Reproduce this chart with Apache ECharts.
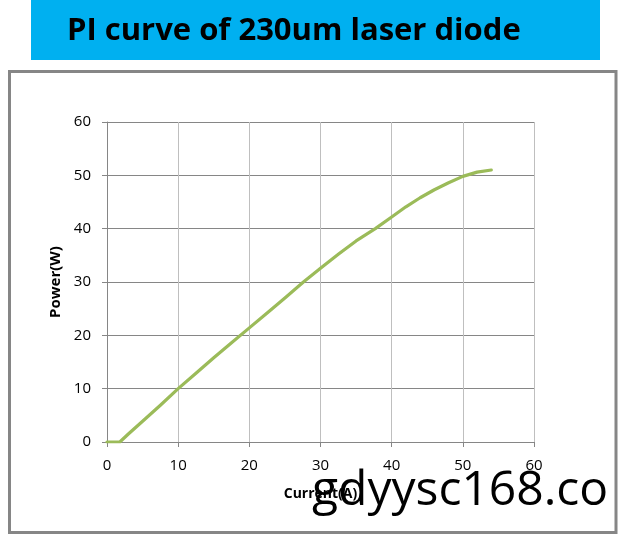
<!DOCTYPE html>
<html>
<head>
<meta charset="utf-8">
<script src="https://cdn.jsdelivr.net/npm/echarts@6/dist/echarts.min.js"></script>
<style>
html,body{margin:0;padding:0;background:#fff;}
#chart{width:618px;height:536px;}
</style>
</head>
<body>
<div id="chart"></div>
<script>
const titleText = 'PI curve of 230um laser diode';
const xAxisName = 'Current(A)';
const yAxisName = 'Power(W)';
const watermark = 'gdyysc168.co';
const currentA = [0, 1, 1.8, 3, 5, 7.5, 10, 12.5, 15, 17.5, 20, 22.5, 25, 27.6, 30, 32.5, 35, 37.7, 40, 42, 44, 46, 48, 50, 52, 54];
const powerW  = [0, 0, 0, 1.5, 3.9, 6.9, 10.0, 12.9, 15.8, 18.6, 21.4, 24.2, 27.0, 30, 32.6, 35.2, 37.7, 40, 42.2, 44.1, 45.8, 47.3, 48.6, 49.8, 50.6, 51];
const xTicks = {min: 0, max: 60, interval: 10};
const yTicks = {min: 0, max: 60, interval: 10};

const chart = echarts.init(document.getElementById('chart'), null, {renderer: 'canvas'});
const font = '"Open Sans", "Liberation Sans", sans-serif';
chart.setOption({
  animation: false,
  backgroundColor: '#fff',
  graphic: [
    {type: 'rect', shape: {x: 31, y: 0, width: 569, height: 60}, style: {fill: '#00B0F0'}, z: 0},
    {type: 'text', left: 67, top: 16, style: {text: titleText, font: 'bold 31px ' + font, fill: '#000'}, z: 1},
    {type: 'rect', shape: {x: 9.5, y: 71.5, width: 606.5, height: 461}, style: {fill: 'none', stroke: '#868686', lineWidth: 3}, z: 0},
    {type: 'text', left: 312, top: 467, style: {text: watermark, font: '48px ' + font, fill: '#000'}, z: 10}
  ],
  grid: {left: 107, right: 84, top: 122, bottom: 94, containLabel: false},
  xAxis: {
    type: 'value', min: xTicks.min, max: xTicks.max, interval: xTicks.interval,
    name: xAxisName, nameLocation: 'middle', nameGap: 45,
    nameTextStyle: {fontFamily: font, fontWeight: 'bold', fontSize: 14, color: '#000'},
    axisLine: {show: true, lineStyle: {color: '#868686', width: 1}},
    axisTick: {show: true, length: 5, lineStyle: {color: '#868686'}},
    axisLabel: {fontFamily: font, fontSize: 15, color: '#000', margin: 16},
    splitLine: {show: true, lineStyle: {color: '#BFBFBF', width: 1}}
  },
  yAxis: {
    type: 'value', min: yTicks.min, max: yTicks.max, interval: yTicks.interval,
    name: yAxisName, nameLocation: 'middle', nameGap: 42,
    nameTextStyle: {fontFamily: font, fontWeight: 'bold', fontSize: 15, color: '#000'},
    axisLine: {show: true, lineStyle: {color: '#868686', width: 1}},
    axisTick: {show: true, length: 5, lineStyle: {color: '#868686'}},
    axisLabel: {fontFamily: font, fontSize: 15, color: '#000', margin: 16},
    splitLine: {show: true, lineStyle: {color: '#868686', width: 1}}
  },
  series: [{
    type: 'line',
    data: currentA.map((x, i) => [x, powerW[i]]),
    smooth: false,
    showSymbol: false,
    lineStyle: {color: '#9BBB59', width: 3.2, join: 'round', cap: 'round'},
    itemStyle: {color: '#9BBB59'}
  }]
});
</script>
</body>
</html>
